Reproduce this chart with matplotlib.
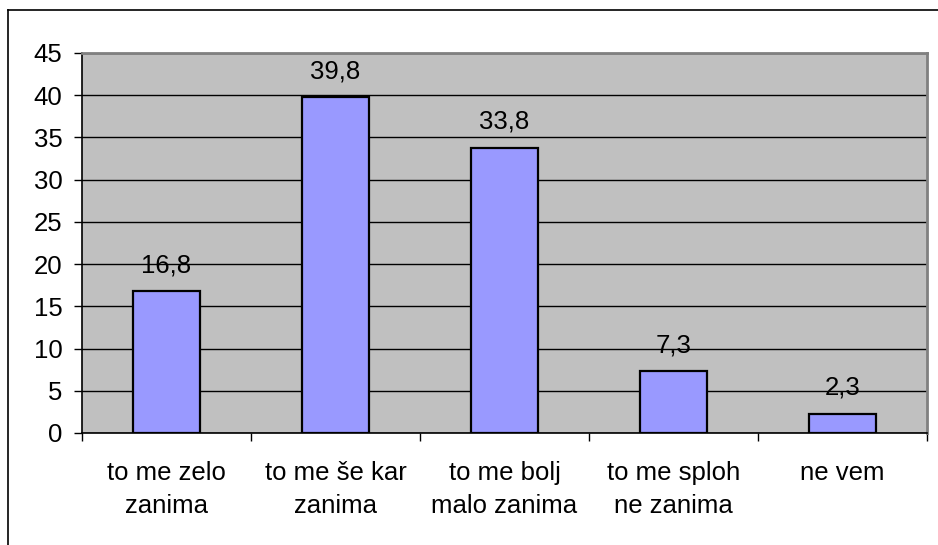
import matplotlib
matplotlib.use('Agg')
import matplotlib.pyplot as plt
from matplotlib.ticker import MultipleLocator, FixedLocator

# data
categories = ['to me zelo\nzanima', 'to me še kar\nzanima', 'to me bolj\nmalo zanima',
              'to me sploh\nne zanima', 'ne vem']
values = [16.8, 39.8, 33.8, 7.3, 2.3]
value_labels = ['16,8', '39,8', '33,8', '7,3', '2,3']

plt.rcParams['font.family'] = ['Liberation Sans', 'DejaVu Sans']
fs = 18.5

fig = plt.figure(figsize=(9.38, 5.45), dpi=100)
ax = fig.add_axes([82/938, 1 - 433/545, (927-82)/938, (433-53)/545])

# outer chart border (only top and left are visible in the crop)
fig.add_artist(plt.Line2D([8/938, 8/938], [0, 1 - 10/545], transform=fig.transFigure,
                          color='black', lw=1.2))
fig.add_artist(plt.Line2D([8/938, 1], [1 - 10/545, 1 - 10/545], transform=fig.transFigure,
                          color='black', lw=1.2))

ax.set_facecolor('#C0C0C0')
x = list(range(len(categories)))
ax.bar(x, values, width=0.4, color='#9999FF', edgecolor='black', linewidth=1.6, zorder=3)

for xi, v, lab in zip(x, values, value_labels):
    ax.annotate(lab, (xi, v), xytext=(0, 13.5), textcoords='offset points',
                ha='center', va='baseline', fontsize=fs, zorder=4)

ax.set_xlim(-0.5, len(categories) - 0.5)
ax.set_ylim(0, 45)
ax.yaxis.set_major_locator(MultipleLocator(5))
ax.grid(axis='y', color='black', lw=1.0, zorder=1)
ax.set_axisbelow(True)

ax.set_xticks(x)
ax.set_xticklabels(categories, fontsize=fs, linespacing=1.5)
ax.xaxis.set_minor_locator(FixedLocator([i - 0.5 for i in range(len(categories) + 1)]))
ax.tick_params(axis='x', which='major', length=0, pad=20)
ax.tick_params(axis='x', which='minor', length=6, width=1, direction='out')
ax.tick_params(axis='y', length=6, width=1, pad=8, labelsize=fs)

ax.spines['left'].set_color('black')
ax.spines['bottom'].set_color('black')
ax.spines['left'].set_linewidth(1.2)
ax.spines['bottom'].set_linewidth(1.2)
ax.spines['top'].set_color('#808080')
ax.spines['right'].set_color('#808080')
ax.spines['top'].set_linewidth(2)
ax.spines['right'].set_linewidth(2)

fig.savefig('out.png', dpi=100)
